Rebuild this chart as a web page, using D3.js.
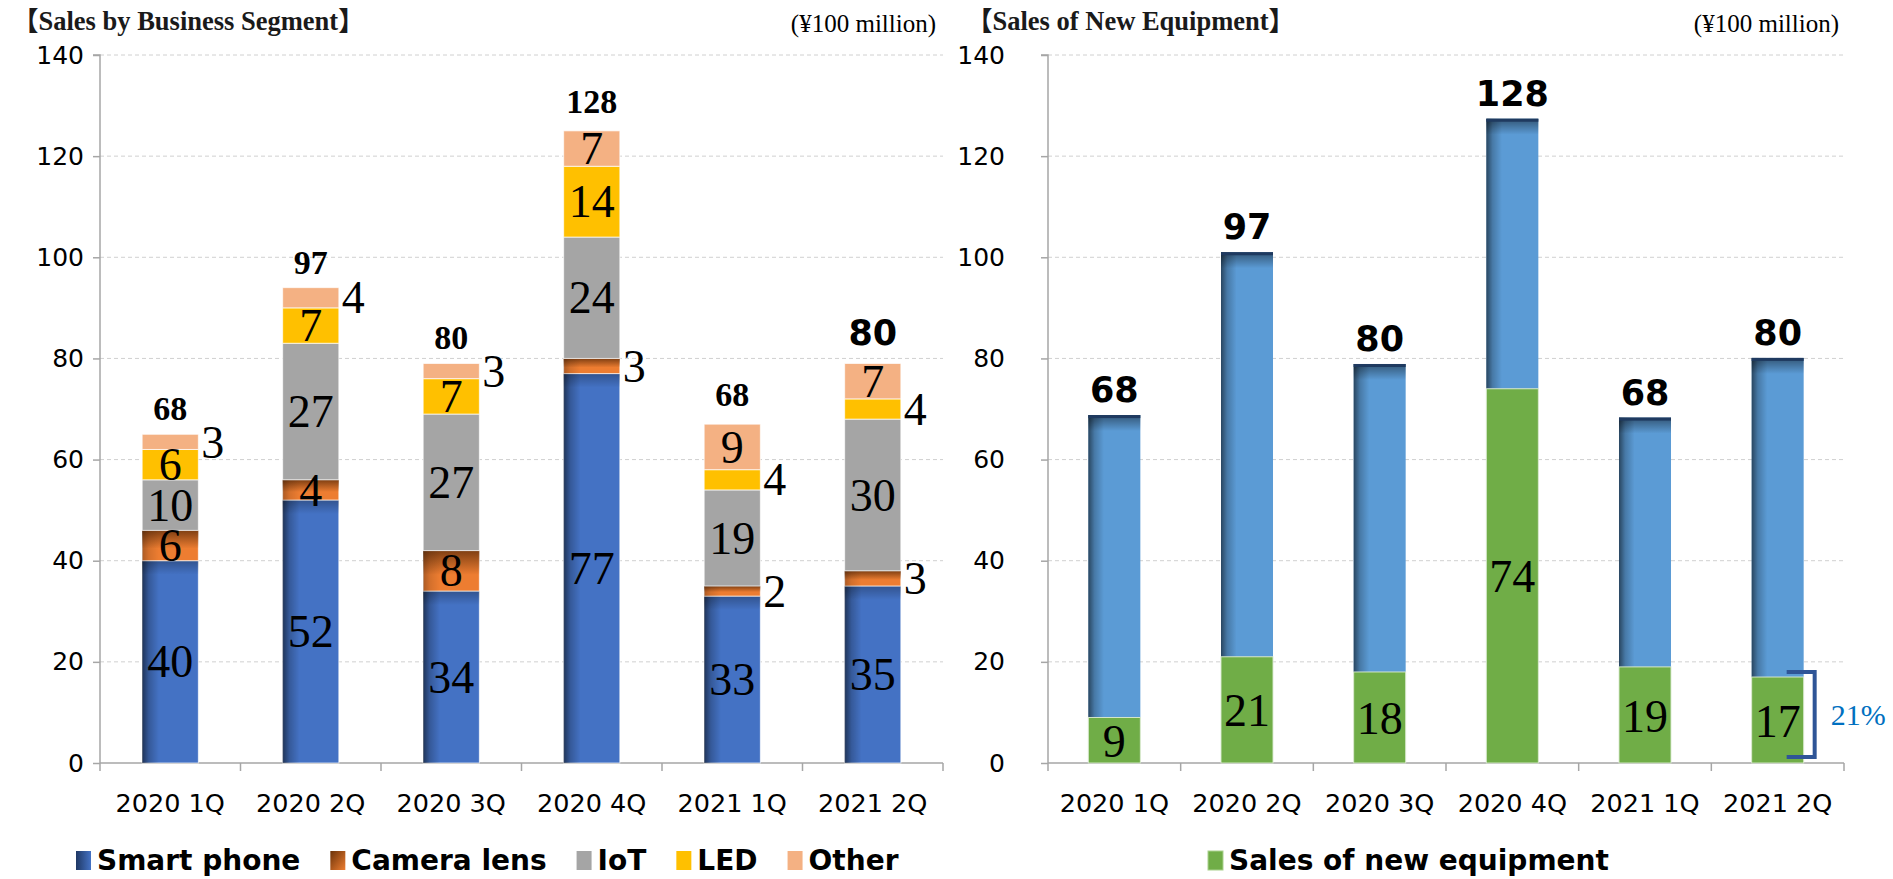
<!DOCTYPE html>
<html>
<head>
<meta charset="utf-8">
<script src="https://cdn.jsdelivr.net/npm/d3@7"></script>
<style>
  html, body { margin: 0; padding: 0; background: #ffffff; }
  svg { display: block; }
</style>
</head>
<body>
<svg id="chart" width="1893" height="879"></svg>
<script>
// ---------------- DATA ----------------
const categories = ['2020 1Q', '2020 2Q', '2020 3Q', '2020 4Q', '2021 1Q', '2021 2Q'];
const seriesNames = ['Smart phone', 'Camera lens', 'IoT', 'LED', 'Other'];
const smartPhone = [40, 52, 34, 77, 33, 35];
const cameraLens = [6, 4, 8, 3, 2, 3];
const iot = [10, 27, 27, 24, 19, 30];
const led = [6, 7, 7, 14, 4, 4];
const other = [3, 4, 3, 7, 9, 7];
const segmentTotalLabels = [68, 97, 80, 128, 68, 80];

const equipmentSeriesName = 'Sales of new equipment';
const newEquipment = [9, 21, 18, 74, 19, 17];
const equipmentBarTotals = [68.8, 101, 78.9, 127.4, 68.3, 80.1];
const equipmentTotalLabels = [68, 97, 80, 128, 68, 80];
const shareLabel = '21%';

const yTicks = [0, 20, 40, 60, 80, 100, 120, 140];
const leftTitle = '【Sales by Business Segment】';
const rightTitle = '【Sales of New Equipment】';
const unitLabel = '(¥100 million)';

// ---------------- SETUP ----------------
const svg = d3.select('#chart');
const defs = svg.append('defs');

const colors = {
  'Smart phone': '#4472C4',
  'Camera lens': '#ED7D31',
  'IoT': '#A5A5A5',
  'LED': '#FFC000',
  'Other': '#F4B183'
};
const equipBlue = '#5B9BD5';
const equipGreen = '#70AD47';

function linGrad(id, x1, y1, x2, y2, stops) {
  const g = defs.append('linearGradient').attr('id', id)
    .attr('x1', x1).attr('y1', y1).attr('x2', x2).attr('y2', y2);
  stops.forEach(s => g.append('stop').attr('offset', s[0]).attr('stop-color', s[1]).attr('stop-opacity', s[2] == null ? 1 : s[2]));
}
linGrad('shadeLeft', '0', '0', '1', '0', [[0, '#000', 0.55], [0.12, '#000', 0.22], [0.3, '#000', 0]]);
linGrad('shadeTop', '0', '0', '0', '1', [[0, '#000', 0.45], [1, '#000', 0]]);
linGrad('shadeTopBrown', '0', '0', '0', '1', [[0, '#5a2a08', 0.75], [1, '#5a2a08', 0]]);
linGrad('legPhone', '0', '0', '1', '0', [[0, '#1f3864'], [1, '#4472C4']]);
linGrad('legLens', '0', '0', '1', '1', [[0, '#6b3208'], [1, '#ED7D31']]);

const y = d3.scaleLinear().domain([0, 140]).range([763, 55]);

function drawAxes(g, x, xRange, labelPad) {
  // gridlines
  g.append('g').selectAll('line').data(yTicks.filter(t => t > 0)).join('line')
    .attr('x1', xRange[0]).attr('x2', xRange[1])
    .attr('y1', d => y(d)).attr('y2', d => y(d))
    .attr('stroke', '#D0D0D0').attr('stroke-width', 1).attr('stroke-dasharray', '4,3');
  // y axis
  const ya = g.append('g').attr('transform', `translate(${xRange[0]},0)`)
    .call(d3.axisLeft(y).tickValues(yTicks).tickSize(7).tickPadding(labelPad).tickFormat(d3.format('d')));
  ya.select('.domain').attr('stroke', '#A6A6A6').attr('stroke-width', 1.5).attr('d', `M-7,${y(140)}H0V${y(0)}`);
  ya.selectAll('.tick line').attr('stroke', '#A6A6A6').attr('stroke-width', 1.5);
  ya.selectAll('.tick text').attr('font-family', 'DejaVu Sans').attr('font-size', 25).attr('fill', '#000');
  // x axis
  g.append('line').attr('x1', xRange[0]).attr('x2', xRange[1]).attr('y1', y(0)).attr('y2', y(0))
    .attr('stroke', '#A6A6A6').attr('stroke-width', 1.5);
  const step = x.step();
  const bounds = d3.range(categories.length + 1).map(i => xRange[0] + i * step);
  g.append('g').selectAll('line').data(bounds).join('line')
    .attr('x1', d => d).attr('x2', d => d).attr('y1', y(0)).attr('y2', y(0) + 8)
    .attr('stroke', '#A6A6A6').attr('stroke-width', 1.5);
  g.append('g').selectAll('text').data(categories).join('text')
    .attr('x', d => x(d) + x.bandwidth() / 2).attr('y', 812)
    .attr('text-anchor', 'middle').attr('font-family', 'DejaVu Sans').attr('font-size', 25.5)
    .attr('fill', '#000').text(d => d);
}

// ---------------- LEFT CHART ----------------
const left = svg.append('g');
const xL = d3.scaleBand().domain(categories).range([100, 943]).paddingInner(0.6).paddingOuter(0.3);
drawAxes(left, xL, [100, 943], 9);

const seriesData = [smartPhone, cameraLens, iot, led, other];
const stackRows = categories.map((c, i) => {
  const row = { cat: c };
  seriesNames.forEach((s, k) => row[s] = seriesData[k][i]);
  return row;
});
const stacked = d3.stack().keys(seriesNames)(stackRows);

const bw = xL.bandwidth();
stacked.forEach(layer => {
  const name = layer.key;
  const lg = left.append('g');
  layer.forEach(seg => {
    const cx = xL(seg.data.cat);
    const top = y(seg[1]), h = y(seg[0]) - y(seg[1]);
    lg.append('rect').attr('x', cx).attr('y', top).attr('width', bw).attr('height', h)
      .attr('fill', colors[name]).attr('stroke', 'rgba(255,255,255,0.7)').attr('stroke-width', 1);
    if (name === 'Smart phone') {
      lg.append('rect').attr('x', cx).attr('y', top).attr('width', bw).attr('height', h).attr('fill', 'url(#shadeLeft)');
      lg.append('rect').attr('x', cx).attr('y', top).attr('width', bw).attr('height', Math.min(14, h)).attr('fill', 'url(#shadeTop)').attr('opacity', 0.6);
    }
    if (name === 'Camera lens') {
      lg.append('rect').attr('x', cx).attr('y', top).attr('width', bw).attr('height', Math.max(6, h * 0.6)).attr('fill', 'url(#shadeTopBrown)');
      lg.append('rect').attr('x', cx).attr('y', top).attr('width', bw).attr('height', h).attr('fill', 'url(#shadeLeft)').attr('opacity', 0.5);
    }
  });
});

// segment value labels
stacked.forEach(layer => {
  const name = layer.key;
  layer.forEach(seg => {
    const v = seg[1] - seg[0];
    const outside = v <= 3 || (v === 4 && name !== 'Camera lens');
    const cx = xL(seg.data.cat);
    const cy = y((seg[0] + seg[1]) / 2);
    left.append('text')
      .attr('x', outside ? cx + bw + 3 : cx + bw / 2)
      .attr('y', cy).attr('dy', '0.34em')
      .attr('text-anchor', outside ? 'start' : 'middle')
      .attr('font-family', 'Liberation Serif').attr('font-size', 46).attr('fill', '#000')
      .text(v);
  });
});

// total labels
const topLayer = stacked[stacked.length - 1];
categories.forEach((c, i) => {
  const sans = i === categories.length - 1;
  left.append('text')
    .attr('x', xL(c) + bw / 2).attr('y', y(topLayer[i][1]) - (i >= 3 ? 18 : 14))
    .attr('text-anchor', 'middle')
    .attr('font-family', sans ? 'DejaVu Sans' : 'Liberation Serif').attr('font-weight', 'bold')
    .attr('font-size', sans ? 35 : 34).attr('fill', '#000')
    .text(segmentTotalLabels[i]);
});

// titles
left.append('text').attr('x', 12).attr('y', 30)
  .attr('font-family', 'Liberation Serif, Noto Sans CJK JP').attr('font-weight', 'bold').attr('font-size', 26.5)
  .attr('fill', '#1a1a1a').text(leftTitle);
left.append('text').attr('x', 936).attr('y', 32).attr('text-anchor', 'end')
  .attr('font-family', 'Liberation Serif').attr('font-size', 25).attr('fill', '#000').text(unitLabel);

// legend left
{
  const lg = left.append('g').attr('transform', 'translate(76,0)');
  let xPos = 0;
  seriesNames.forEach(name => {
    const fill = name === 'Smart phone' ? 'url(#legPhone)' : name === 'Camera lens' ? 'url(#legLens)' : colors[name];
    lg.append('rect').attr('x', xPos).attr('y', 851).attr('width', 15).attr('height', 19).attr('fill', fill);
    const t = lg.append('text').attr('x', xPos + 21).attr('y', 870)
      .attr('font-family', 'DejaVu Sans').attr('font-weight', 'bold').attr('font-size', 28).attr('fill', '#000').text(name);
    xPos += 21 + t.node().getComputedTextLength() + 30;
  });
}

// ---------------- RIGHT CHART ----------------
const right = svg.append('g');
const xR = d3.scaleBand().domain(categories).range([1048, 1844]).paddingInner(0.608).paddingOuter(0.304);
drawAxes(right, xR, [1048, 1844], 36);
const bwR = xR.bandwidth();

categories.forEach((c, i) => {
  const cx = xR(c);
  const gTop = y(newEquipment[i]);
  const tTop = y(equipmentBarTotals[i]);
  // blue remainder
  right.append('rect').attr('x', cx).attr('y', tTop).attr('width', bwR).attr('height', gTop - tTop)
    .attr('fill', equipBlue);
  right.append('rect').attr('x', cx).attr('y', tTop).attr('width', bwR).attr('height', gTop - tTop)
    .attr('fill', 'url(#shadeLeft)');
  right.append('rect').attr('x', cx).attr('y', tTop).attr('width', bwR).attr('height', 16)
    .attr('fill', 'url(#shadeTop)');
  right.append('rect').attr('x', cx).attr('y', tTop).attr('width', bwR).attr('height', 3)
    .attr('fill', '#1f3a60');
  // green
  right.append('rect').attr('x', cx).attr('y', gTop).attr('width', bwR).attr('height', y(0) - gTop)
    .attr('fill', equipGreen).attr('stroke', 'rgba(220,235,210,0.9)').attr('stroke-width', 1);
  right.append('text').attr('x', cx + bwR / 2).attr('y', y(newEquipment[i] / 2)).attr('dy', '0.36em')
    .attr('text-anchor', 'middle').attr('font-family', 'Liberation Serif').attr('font-size', 46).attr('fill', '#000')
    .text(newEquipment[i]);
  right.append('text').attr('x', cx + bwR / 2).attr('y', tTop - 13)
    .attr('text-anchor', 'middle').attr('font-family', 'DejaVu Sans').attr('font-weight', 'bold')
    .attr('font-size', 35).attr('fill', '#000').text(equipmentTotalLabels[i]);
});

// bracket + share label on the last bar
{
  const last = categories.length - 1;
  const xr = xR(categories[last]) + bwR;
  const yt = y(newEquipment[last]) - 5, yb = y(0) - 6;
  right.append('path').attr('d', `M${xr - 17},${yt}H${xr + 11}V${yb}H${xr - 17}`)
    .attr('fill', 'none').attr('stroke', '#2F5597').attr('stroke-width', 4);
  right.append('text').attr('x', xr + 27).attr('y', (yt + yb) / 2 + 10)
    .attr('font-family', 'Liberation Serif').attr('font-size', 30).attr('fill', '#0070C0').text(shareLabel);
}

right.append('text').attr('x', 966).attr('y', 30)
  .attr('font-family', 'Liberation Serif, Noto Sans CJK JP').attr('font-weight', 'bold').attr('font-size', 26.5)
  .attr('fill', '#1a1a1a').text(rightTitle);
right.append('text').attr('x', 1839).attr('y', 32).attr('text-anchor', 'end')
  .attr('font-family', 'Liberation Serif').attr('font-size', 25).attr('fill', '#000').text(unitLabel);

// legend right
{
  const lg = right.append('g');
  lg.append('text').attr('x', 1229).attr('y', 870)
    .attr('font-family', 'DejaVu Sans').attr('font-weight', 'bold').attr('font-size', 28).attr('fill', '#000').text(equipmentSeriesName);
  lg.append('rect').attr('x', 1208).attr('y', 851).attr('width', 15).attr('height', 19)
    .attr('fill', equipGreen).attr('stroke', '#A9D18E').attr('stroke-width', 1);
}
</script>
</body>
</html>
